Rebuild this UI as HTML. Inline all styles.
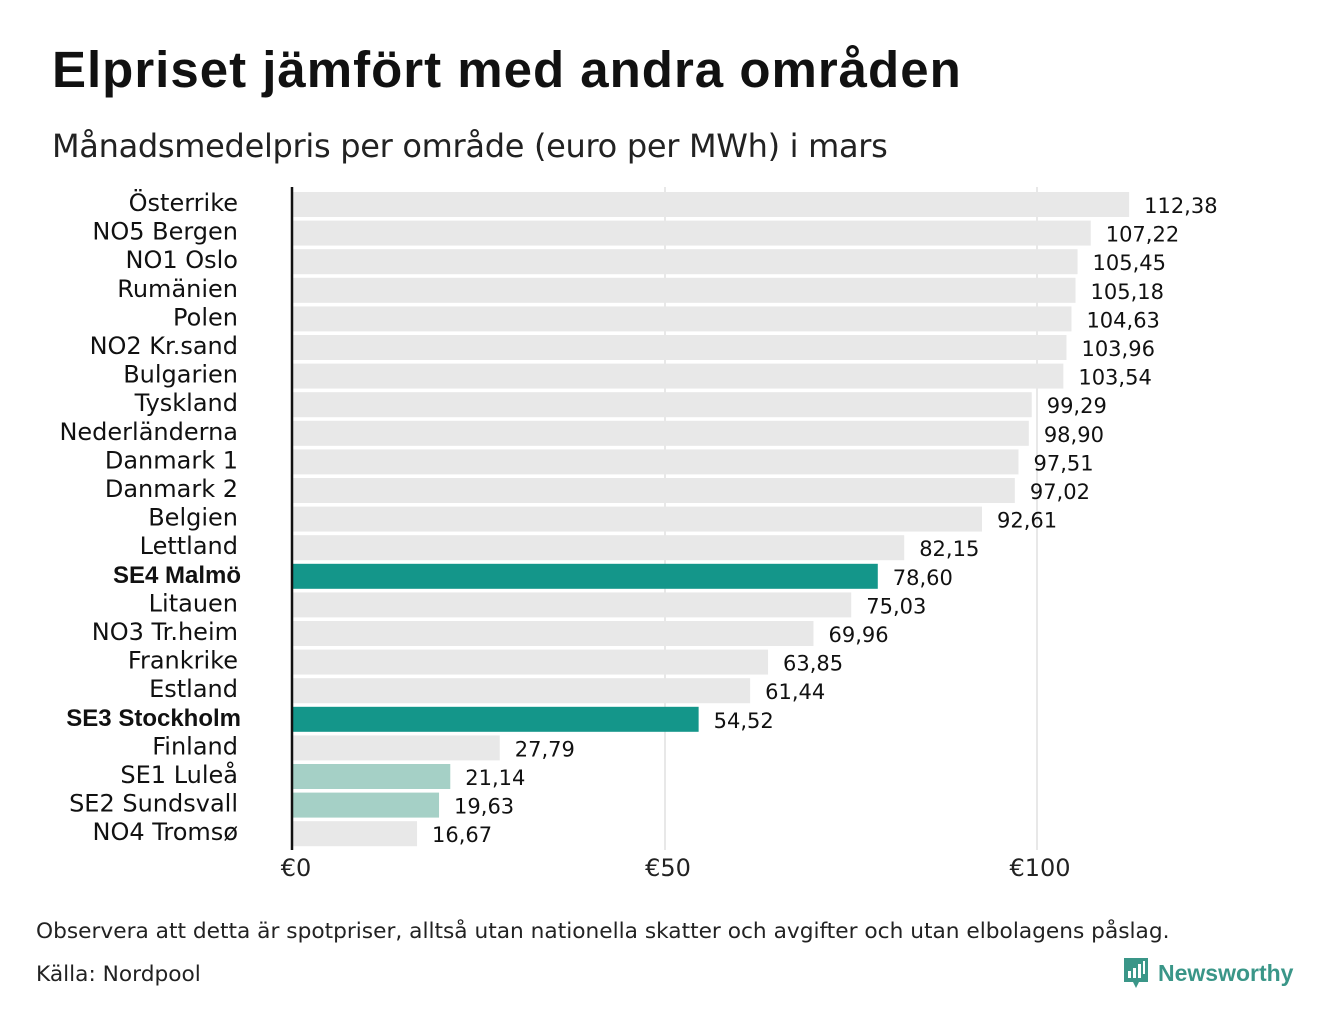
<!DOCTYPE html>
<html><head><meta charset="utf-8">
<style>
body{margin:0;width:1340px;height:1020px;background:#fff;font-family:"Liberation Sans","DejaVu Sans",sans-serif;overflow:hidden}
#title{position:absolute;left:52px;top:40px;font-size:51px;font-weight:bold;color:#111;margin:0;letter-spacing:1px}
#sub{position:absolute;left:52px;top:127px;font-size:32px;color:#222;font-family:"DejaVu Sans",sans-serif;letter-spacing:-0.3px}
.foot{position:absolute;left:36px;font-size:21.7px;color:#222;font-family:"DejaVu Sans",sans-serif}
</style></head><body>
<h1 id="title">Elpriset jämfört med andra områden</h1>
<div id="sub">Månadsmedelpris per område (euro per MWh) i mars</div>
<svg id="chart" width="1340" height="900" style="position:absolute;left:0;top:0"></svg>
<div class="foot" style="top:919px">Observera att detta är spotpriser, alltså utan nationella skatter och avgifter och utan elbolagens påslag.</div>
<div class="foot" style="top:962px">Källa: Nordpool</div>
<div style="position:absolute;left:1122px;top:956px;display:flex;align-items:center">
<svg width="28" height="34" viewBox="0 0 28 34"><path d="M2 2h24v24h-9l-3 6-3-6H2z" fill="#3a9688"/><rect x="6" y="15" width="3" height="7" fill="#fff"/><rect x="11" y="12" width="3" height="10" fill="#fff"/><rect x="16" y="8" width="3" height="14" fill="#fff"/><rect x="21" y="5" width="2" height="13" fill="#fff"/></svg>
<span style="font-size:23px;font-weight:bold;color:#3a9688;margin-left:8px">Newsworthy</span></div>
<script>
const categories=["Österrike","NO5 Bergen","NO1 Oslo","Rumänien","Polen","NO2 Kr.sand","Bulgarien","Tyskland","Nederländerna","Danmark  1","Danmark  2","Belgien","Lettland","SE4 Malmö","Litauen","NO3 Tr.heim","Frankrike","Estland","SE3 Stockholm","Finland","SE1  Luleå","SE2  Sundsvall","NO4 Tromsø"];
const values=[112.38,107.22,105.45,105.18,104.63,103.96,103.54,99.29,98.90,97.51,97.02,92.61,82.15,78.60,75.03,69.96,63.85,61.44,54.52,27.79,21.14,19.63,16.67];
const highlight=["","","","","","","","","","","","","","dark","","","","","dark","","light","light",""];
const ticks=[0,50,100];
const tickLabels=["€0","€50","€100"];
const svg=document.getElementById('chart');
const NS="http://www.w3.org/2000/svg";
const x=v=>293+v*7.44;
const y=i=>192+i*28.6;
function mk(t,a){const e=document.createElementNS(NS,t);for(const k in a)e.setAttribute(k,a[k]);svg.appendChild(e);return e;}
ticks.forEach((t,i)=>{
  if(t>0){const g=mk('line',{x1:x(t),x2:x(t),y1:187,y2:850,stroke:'#d0d0d0','stroke-width':1});
  
  }
  const l=mk('text',{x:x(t)+3,y:876,'font-size':24,'text-anchor':'middle',fill:'#222','font-family':'DejaVu Sans, sans-serif'});
  l.textContent=tickLabels[i];
  
  
});
categories.forEach((c,i)=>{
  const col=highlight[i]==='dark'?'#14968a':highlight[i]==='light'?'#a5d0c6':'#e8e8e8';
  const b=mk('rect',{x:x(0),y:y(i),width:x(values[i])-x(0),height:25,fill:col});
  
  
  const bold=highlight[i]==='dark';
  const l=mk('text',{x:bold?241:238,y:y(i)+19,'font-size':24,'text-anchor':'end',fill:'#111','font-weight':bold?'bold':'normal','font-family':bold?'Liberation Sans, sans-serif':'DejaVu Sans, sans-serif'});
  l.textContent=c;
  
  
  const v=mk('text',{x:x(values[i])+15,y:y(i)+21,'font-size':21,fill:'#111','font-family':'DejaVu Sans, sans-serif'});
  v.textContent=values[i].toFixed(2).replace('.',',');
  
  
});
const ax=mk('line',{x1:292,x2:292,y1:187,y2:850,stroke:'#111','stroke-width':2.5});


</script>
</body></html>
